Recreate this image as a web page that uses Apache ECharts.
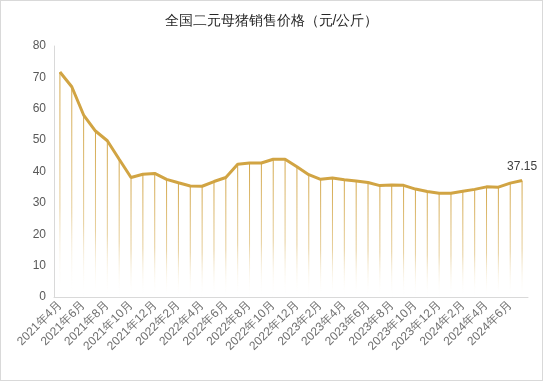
<!DOCTYPE html>
<html><head><meta charset="utf-8">
<script src="https://cdn.jsdelivr.net/npm/echarts@6/dist/echarts.min.js"></script>
<style>html,body{margin:0;padding:0;background:#fff}#c{width:543px;height:381px;box-sizing:border-box;border:1px solid #d9d9d9}</style>
</head><body><div id="c"></div>
<script>
const title = '全国二元母猪销售价格（元/公斤）';
const categories = [
 '2021年4月','2021年5月','2021年6月','2021年7月','2021年8月','2021年9月','2021年10月','2021年11月','2021年12月',
 '2022年1月','2022年2月','2022年3月','2022年4月','2022年5月','2022年6月','2022年7月','2022年8月','2022年9月','2022年10月','2022年11月','2022年12月',
 '2023年1月','2023年2月','2023年3月','2023年4月','2023年5月','2023年6月','2023年7月','2023年8月','2023年9月','2023年10月','2023年11月','2023年12月',
 '2024年1月','2024年2月','2024年3月','2024年4月','2024年5月','2024年6月','2024年7月'];
const prices = [
 71.7,67.0,58.0,52.9,49.8,43.9,38.1,39.1,39.4,
 37.5,36.4,35.4,35.3,36.8,38.1,42.3,42.7,42.7,43.9,43.9,41.5,
 39.0,37.5,37.9,37.4,37.0,36.5,35.5,35.7,35.6,34.4,33.6,33.1,
 33.1,33.7,34.3,35.1,35.0,36.3,37.15];
const yTicks = {min:0, max:80, interval:10};

const lastIdx = prices.length - 1;
const chart = echarts.init(document.getElementById('c'));
chart.setOption({
  animation:false,
  title:{text:title,left:'center',top:8,textStyle:{fontSize:14,fontWeight:'normal',color:'#262626'}},
  grid:{left:53,right:14,top:45,bottom:83},
  xAxis:{type:'category',data:categories,boundaryGap:true,
    axisLine:{lineStyle:{color:'#d9d9d9'}},axisTick:{show:false},
    axisLabel:{rotate:45,interval:1,color:'#707070',fontSize:12,margin:6}},
  yAxis:{type:'value',min:yTicks.min,max:yTicks.max,interval:yTicks.interval,
    axisLine:{show:true,lineStyle:{color:'#d9d9d9'}},axisTick:{show:false},splitLine:{show:false},
    axisLabel:{color:'#595959',fontSize:12,margin:8}},
  series:[
    {type:'bar',data:prices,barWidth:1,silent:true,
      itemStyle:{color:new echarts.graphic.LinearGradient(0,0,0,1,[{offset:0,color:'rgba(210,165,70,1)'},{offset:0.6,color:'rgba(225,195,130,0.8)'},{offset:1,color:'rgba(255,255,255,0)'}])}},
    {type:'line',data:prices,symbol:'circle',symbolSize:0,showSymbol:true,showAllSymbol:true,smooth:false,
      label:{show:true,position:'top',distance:8,color:'#404040',fontSize:12,
        formatter:p=>p.dataIndex===lastIdx?String(p.value):''},
      labelLayout:{hideOverlap:false},
      lineStyle:{color:'#D1A443',width:3},itemStyle:{color:'#D1A443'},z:5}
  ]
});
</script></body></html>
